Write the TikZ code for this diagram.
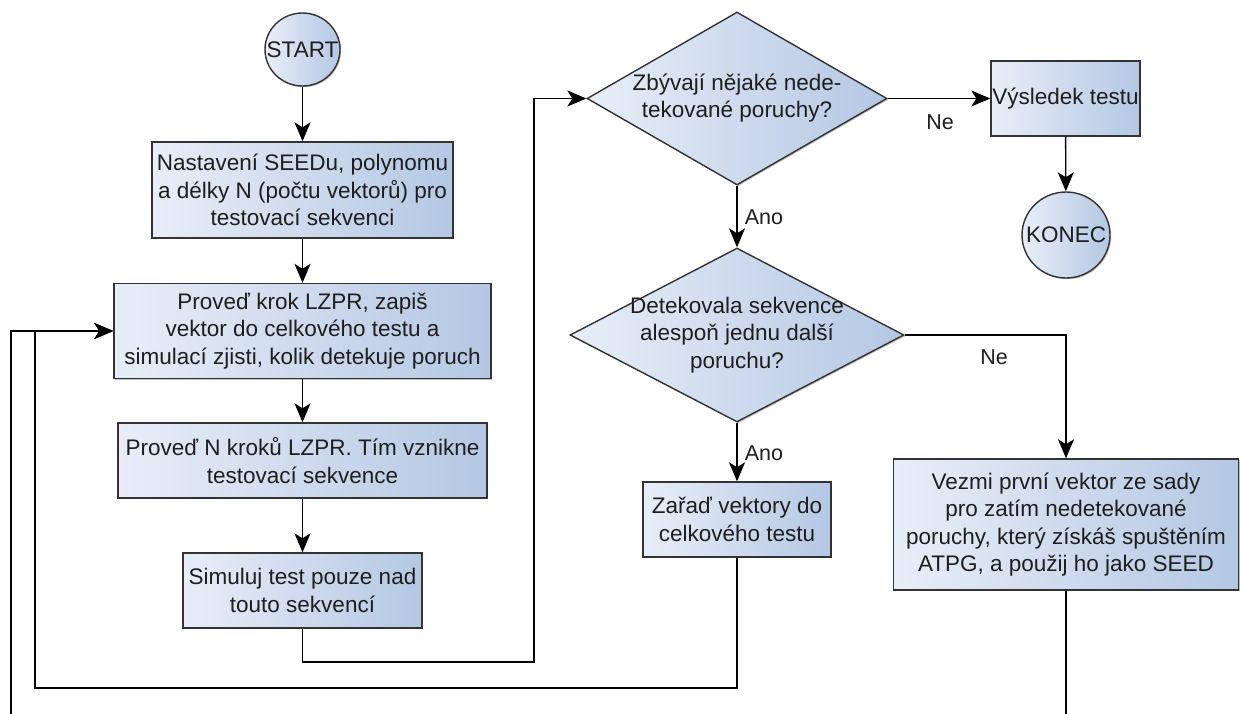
\documentclass[tikz,border=0pt]{standalone}
\usepackage{fontspec}
\setmainfont{Liberation Sans}
\usetikzlibrary{arrows.meta,shapes.geometric,shadows}
\definecolor{fillL}{HTML}{E8EEF8}
\definecolor{fillR}{HTML}{B4C7E3}
\definecolor{edge}{HTML}{333333}
\definecolor{ink}{HTML}{1E1E1E}
\tikzset{
  base/.style={draw=edge, line width=1.4pt, left color=fillL, right color=fillR,
    text=ink, font=\fontsize{22.5}{27.5}\selectfont, inner sep=0pt,
    drop shadow={shadow xshift=1.2pt, shadow yshift=-1.2pt, fill=black, opacity=0.25}},
  procbox/.style={base, rectangle, align=center},
  terminal/.style={base, ellipse},
  decision/.style={base, diamond, aspect=1.73},
  conn/.style={draw=black, line width=1.4pt, -{Stealth[length=19pt,width=16pt,inset=5pt]}},
  lbl/.style={font=\fontsize{21.5}{26}\selectfont, text=ink, inner sep=0pt},
}
\begin{document}
\begin{tikzpicture}[x=1pt,y=-1pt]
\useasboundingbox (0,0) rectangle (1241,713);
% left column
\node[terminal, minimum width=75pt, minimum height=73pt] (start) at (302.5,49.5) {\makebox[0pt]{START}};
\node[procbox, minimum width=301pt, minimum height=96pt] (b1) at (302.5,190)
  {Nastavení SEEDu, polynomu\\ a délky N (počtu vektorů) pro\\ testovací sekvenci};
\node[procbox, minimum width=377pt, minimum height=95pt] (b2) at (302.5,331)
  {Proveď krok LZPR, zapiš\\ vektor do celkového testu a\\ simulací zjisti, kolik detekuje poruch};
\node[procbox, minimum width=369pt, minimum height=75pt] (b3) at (302.5,460.5)
  {Proveď N kroků LZPR. Tím vznikne\\ testovací sekvence};
\node[procbox, minimum width=239pt, minimum height=75pt] (b4) at (302.5,590.5)
  {Simuluj test pouze nad\\ touto sekvencí};
% middle column
\node[decision, minimum width=300pt, minimum height=173pt] (d1) at (737,98.5)
  {\makebox[0pt]{\begin{tabular}{@{}c@{}}Zbývají nějaké nede-\\ tekované poruchy?\end{tabular}}};
\node[decision, minimum width=334pt, minimum height=174pt] (d2) at (737,335)
  {\makebox[0pt]{\begin{tabular}{@{}c@{}}Detekovala sekvence\\ alespoň jednu další\\ poruchu?\end{tabular}}};
\node[procbox, minimum width=188pt, minimum height=75pt] (za) at (737,519.5)
  {Zařaď vektory do\\ celkového testu};
% right column
\node[procbox, minimum width=149pt, minimum height=75pt] (vy) at (1065.5,98.5) {\makebox[0pt]{Výsledek testu}};
\node[terminal, minimum width=88pt, minimum height=86pt] (konec) at (1066,235) {\makebox[0pt]{KONEC}};
\node[procbox, minimum width=345pt, minimum height=131pt] (atpg) at (1066,524.5)
  {Vezmi první vektor ze sady\\ pro zatím nedetekované\\ poruchy, který získáš spuštěním\\ ATPG, a použij ho jako SEED};
% labels
\node[lbl] (ne1) at (940,122) {Ne};
\node[lbl] (ano1) at (764,217) {Ano};
\node[lbl] (ano2) at (764,453) {Ano};
\node[lbl] (ne2) at (994,357) {Ne};
% helper coordinates
\coordinate (c1) at (534,662);
\coordinate (c3) at (35,688);
\coordinate (c4) at (11,714.3);
% connectors
\draw[conn] (start) -- (b1);
\draw[conn] (b1) -- (b2);
\draw[conn] (b2) -- (b3);
\draw[conn] (b3) -- (b4);
\draw[conn] (b4.south) |- (c1) |- (d1.west);
\draw[conn] (d1.east) -- (vy.west);
\draw[conn] (vy) -- (konec);
\draw[conn] (d1) -- (d2);
\draw[conn] (d2) -- (za);
\draw[conn] (d2.east) -| (atpg.north);
\draw[conn] (za.south) |- (c3) |- (b2.west);
\draw[conn] (atpg.south) |- (c4) |- (b2.west);
\end{tikzpicture}
\end{document}
